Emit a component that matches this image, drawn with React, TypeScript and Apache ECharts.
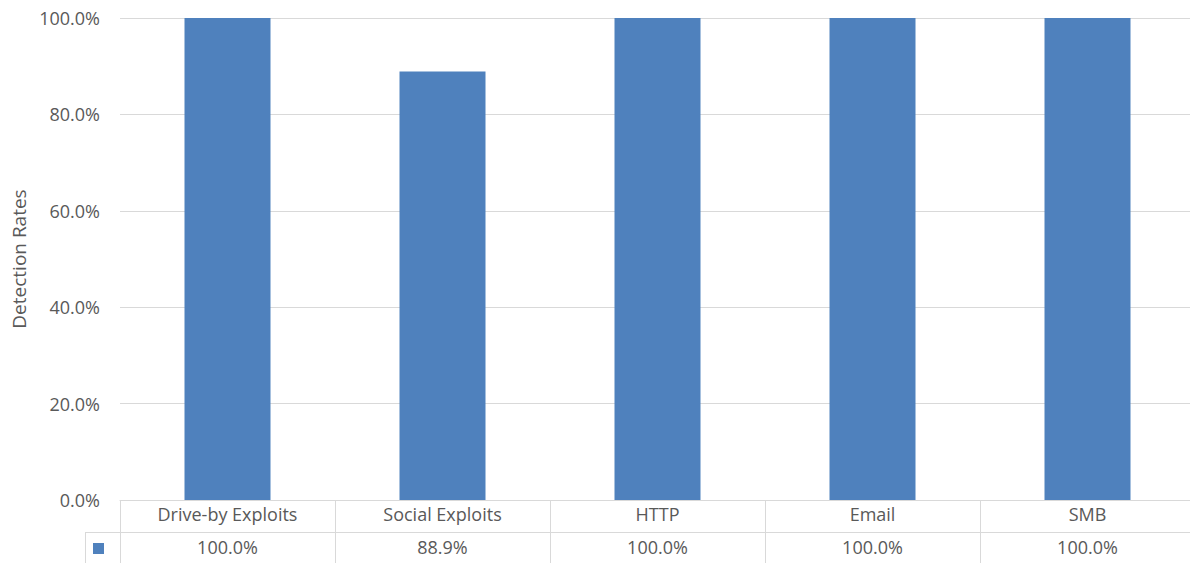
import React, { useEffect, useRef } from "react";
import * as echarts from "echarts";

// Detection rate per attack vector
const categories = ["Drive-by Exploits", "Social Exploits", "HTTP", "Email", "SMB"];
const rates = [100.0, 88.9, 100.0, 100.0, 100.0];
const yTicks = [0, 20, 40, 60, 80, 100];

const TEXT = "#595959";
const RULE = "#D9D9D9";
const BAR = "#4F81BD";
const FONT = "'Open Sans', 'Noto Sans', sans-serif";

export default function App() {
  const ref = useRef<HTMLDivElement>(null);

  useEffect(() => {
    if (!ref.current) return;
    const chart = echarts.init(ref.current, null, { renderer: "svg" });
    const left = 120;
    const top = 18;
    const plotH = 482;
    const plotW = 1075;
    const axisY = top + plotH;
    const rowH = 32;

    chart.setOption({
      animation: false,
      backgroundColor: "#fff",
      textStyle: { fontFamily: FONT },
      grid: { left, top, width: plotW, height: plotH, containLabel: false },
      legend: {
        data: ["Detection Rates"],
        left: 93,
        top: 543,
        padding: 0,
        icon: "rect",
        itemWidth: 11,
        itemHeight: 11,
        formatter: () => "",
        selectedMode: false,
      },
      xAxis: [
        {
          type: "category",
          data: categories,
          position: "bottom",
          axisLine: { show: true, lineStyle: { color: RULE, width: 1 } },
          axisTick: { show: true, length: 63, interval: 0, lineStyle: { color: RULE } },
          axisLabel: {
            interval: 0,
            color: TEXT,
            fontSize: 18,
            fontFamily: FONT,
            margin: 5,
          },
        },
        {
          type: "category",
          data: categories,
          position: "bottom",
          offset: rowH,
          axisLine: { show: true, lineStyle: { color: RULE, width: 1 } },
          axisTick: { show: false },
          axisLabel: {
            interval: 0,
            color: TEXT,
            fontSize: 18,
            fontFamily: FONT,
            margin: 6,
            formatter: (_v: string, i: number) => rates[i].toFixed(1) + "%",
          },
        },
      ],
      yAxis: {
        type: "value",
        min: yTicks[0],
        max: yTicks[yTicks.length - 1],
        interval: yTicks[1] - yTicks[0],
        name: "Detection Rates",
        nameLocation: "middle",
        nameGap: 91,
        nameTextStyle: { color: TEXT, fontSize: 19, fontFamily: FONT },
        axisLine: { show: false },
        axisTick: { show: false },
        splitLine: { lineStyle: { color: RULE, width: 1 } },
        axisLabel: {
          color: TEXT,
          fontSize: 18,
          fontFamily: FONT,
          margin: 20,
          formatter: (v: number) => v.toFixed(1) + "%",
        },
      },
      series: [
        {
          name: "Detection Rates",
          type: "bar",
          xAxisIndex: 0,
          data: rates,
          barWidth: "40%",
          itemStyle: { color: BAR },
        },
      ],
      graphic: [
        {
          type: "line",
          shape: { x1: 85, y1: axisY + rowH + 0.5, x2: left, y2: axisY + rowH + 0.5 },
          style: { stroke: RULE, lineWidth: 1 },
        },
        {
          type: "line",
          shape: { x1: 85.5, y1: axisY + rowH, x2: 85.5, y2: 563 },
          style: { stroke: RULE, lineWidth: 1 },
        },
      ],
    });

    return () => chart.dispose();
  }, []);

  return (
    <div style={{ position: "fixed", left: 0, top: 0, width: 1190, height: 563, overflow: "hidden" }}>
      <div ref={ref} style={{ width: 1200, height: 563 }} />
    </div>
  );
}
